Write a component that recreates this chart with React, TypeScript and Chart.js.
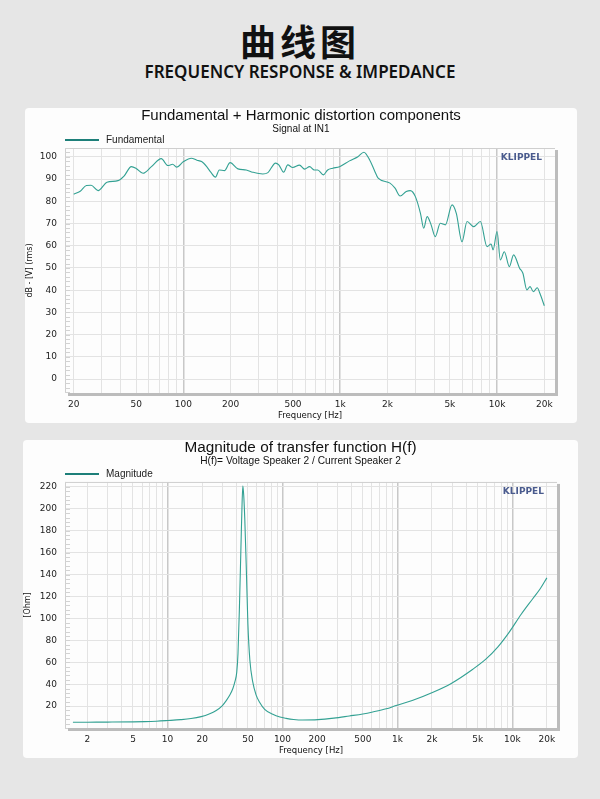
import React, { useEffect, useRef } from "react";
import { Chart, registerables } from "chart.js";
Chart.register(...registerables);

// ---------- Chart 1: Fundamental (dB) ----------
const fundFreq = [
  20, 22, 24.1, 25.8, 28.6, 32.6, 38.3, 42, 46.6, 50, 55.3, 62.6, 72.3, 79.7, 85.4, 90.6,
  100.3, 112.5, 122, 130.7, 140.9, 150, 160.3, 169.5, 182.6, 198.6, 222.8, 251.6, 276.9,
  321, 346, 387, 406, 436, 463, 498, 550, 593, 638, 684, 719, 781, 832, 896, 990, 1146,
  1297, 1416, 1541, 1650, 1745, 2076, 2236, 2410, 2636, 2798, 3014, 3247, 3408, 3581,
  3798, 4036, 4345, 4680, 5162, 5496, 5977, 6434, 7093, 7824, 8628, 9153, 9428, 9996,
  10488, 11124, 11974, 12747, 13913, 14606, 15486, 16233, 17020, 18032, 18740, 20000,
];
const fundDb = [
  83.2, 84.5, 87.1, 87.2, 84.8, 88.6, 89.3, 91.5, 95.6, 94.8, 92.6, 95.6, 99.2, 96.1, 96.7, 95.4,
  97.9, 99.4, 98.5, 97.9, 95.6, 93, 90.9, 94.1, 93.8, 97.4, 94.6, 94.1, 93.1,
  92.3, 92.9, 97.2, 96.4, 93.1, 96.4, 95.2, 96.3, 94.5, 95.6, 94.1, 94.1, 91.9, 94.1, 94.9, 95.6, 98.2,
  100.1, 102.1, 98.6, 94, 90.4, 88.2, 85.9, 82.4, 84.4, 84.8, 82.1, 74.6, 67.9, 73.1,
  69.4, 64.1, 70.1, 69.4, 78.4, 74.6, 61.8, 70.9, 68.6, 70.9, 59.6, 60.8, 58.1, 66.4,
  53.6, 57.3, 50.6, 55.9, 49.9, 47.6, 40.1, 41.6, 39.3, 41.1, 38.6, 33,
];
const fundXTicks = [
  20, 30, 40, 50, 60, 70, 80, 90, 100, 200, 300, 400, 500, 600, 700, 800, 900,
  1000, 2000, 3000, 4000, 5000, 6000, 7000, 8000, 9000, 10000, 20000,
];
const fundXLabels = [20, 50, 100, 200, 500, 1000, 2000, 5000, 10000, 20000];
const fundYTicks = [0, 10, 20, 30, 40, 50, 60, 70, 80, 90, 100];

// ---------- Chart 2: Magnitude (Ohm) ----------
const magFreq = [
  1.5, 2, 3, 5, 6.3, 8, 10, 13, 16, 19.6, 23, 26.5, 30, 32.4, 35, 37, 38.5, 40, 41, 42.2,
  43.5, 44.5, 45.2, 46, 47, 48.3, 50, 52, 55.1, 59, 63.2, 70, 82.3, 95, 107.5, 125, 150,
  203, 280, 382, 500, 610, 800, 974, 1346, 2018, 2942, 4536, 5920, 7500, 9346, 12000,
  14957, 17500, 20000,
];
const magOhm = [
  5.2, 5.3, 5.4, 5.6, 5.8, 6.2, 6.8, 7.6, 8.6, 10.4, 12.8, 16, 20.5, 25, 30.5, 36, 42, 51, 68, 110,
  165, 205, 221, 212, 190, 150, 95, 62, 42, 30, 23.5, 17, 12.5, 10, 8.8, 7.8, 7.3,
  7.6, 9, 11, 12.8, 14.6, 17.5, 20.5, 25, 32.3, 40.6, 53.6, 63, 74, 87, 104,
  117.5, 127, 137,
];
const magXTicks = [
  2, 3, 4, 5, 6, 7, 8, 9, 10, 20, 30, 40, 50, 60, 70, 80, 90, 100, 200, 300, 400, 500, 600,
  700, 800, 900, 1000, 2000, 3000, 4000, 5000, 6000, 7000, 8000, 9000, 10000, 20000,
];
const magXLabels = [2, 5, 10, 20, 50, 100, 200, 500, 1000, 2000, 5000, 10000, 20000];
const magYTicks = [20, 40, 60, 80, 100, 120, 140, 160, 180, 200, 220];

const DECADES = [10, 100, 1000, 10000];
const fmtHz = (v: number) => (v >= 1000 ? `${v / 1000}k` : `${v}`);

const klippelPlugin = {
  id: "klippel",
  beforeDatasetsDraw(chart: any, _a: any, opts: any) {
    const { ctx, chartArea: ca } = chart;
    const y = chart.scales.y;
    ctx.save();
    ctx.strokeStyle = "#cfcfcf";
    ctx.lineWidth = 1;
    ctx.beginPath();
    ctx.moveTo(ca.left + 0.5, ca.top);
    ctx.lineTo(ca.left + 0.5, ca.bottom);
    ctx.moveTo(ca.left, ca.top + 0.5);
    ctx.lineTo(ca.right, ca.top + 0.5);
    ctx.stroke();
    const step = opts.minorStep || 2;
    ctx.strokeStyle = "#d2d2d2";
    ctx.beginPath();
    for (let v = Math.ceil(y.min / step) * step; v <= y.max; v += step) {
      const py = Math.round(y.getPixelForValue(v)) + 0.5;
      ctx.moveTo(ca.left, py);
      ctx.lineTo(ca.left + 5, py);
    }
    ctx.stroke();
    ctx.restore();
  },
  afterDraw(chart: any, _a: any, opts: any) {
    const { ctx, chartArea: ca } = chart;
    ctx.save();
    // frame shadow
    ctx.fillStyle = "#bcbcbc";
    ctx.fillRect(ca.right, ca.top + 2, 3, ca.bottom - ca.top + 1);
    ctx.fillRect(ca.left + 3, ca.bottom, ca.right - ca.left, 3);
    // legend
    const ds = chart.data.datasets[0];
    const ly = ca.top - 8;
    ctx.strokeStyle = "#1d7f79";
    ctx.lineWidth = 2;
    ctx.beginPath();
    ctx.moveTo(ca.left, ly);
    ctx.lineTo(ca.left + 34, ly);
    ctx.stroke();
    ctx.fillStyle = "#222";
    ctx.font = '10px "Liberation Sans", Arial, sans-serif';
    ctx.textBaseline = "middle";
    ctx.textAlign = "left";
    ctx.fillText(ds.label, ca.left + 41, ly);
    // brand
    ctx.fillStyle = "#4a5b8e";
    ctx.font = 'bold 9px "DejaVu Sans", sans-serif';
    ctx.textAlign = "right";
    ctx.fillText(opts.brand || "KLIPPEL", ca.right - 13, ca.top + 10);
    ctx.restore();
  },
};

type Cfg = {
  freq: number[];
  vals: number[];
  label: string;
  title: string;
  subtitle: string;
  titleSize: number;
  subSize: number;
  xMin: number;
  xMax: number;
  xTicks: number[];
  xLabels: number[];
  yMin: number;
  yMax: number;
  yTicks: number[];
  yTitle: string;
  minorStep: number;
  yAxisWidth: number;
  rightGap: number;
  subPadBottom: number;
};

function makeConfig(p: Cfg): any {
  return {
    type: "line",
    data: {
      datasets: [
        {
          label: p.label,
          data: p.freq.map((f, i) => ({ x: f, y: p.vals[i] })),
          borderColor: "#33a193",
          backgroundColor: "#33a193",
          borderWidth: 1.1,
          pointRadius: 0,
          cubicInterpolationMode: "monotone",
          fill: false,
        },
      ],
    },
    options: {
      responsive: false,
      animation: false,
      layout: { padding: 0 },
      plugins: {
        legend: { display: false },
        tooltip: { enabled: false },
        title: {
          display: true,
          text: p.title,
          color: "#111",
          font: { family: '"Liberation Sans", Arial, sans-serif', size: p.titleSize, weight: "normal", lineHeight: 1.0 },
          padding: { top: 0, bottom: 0 },
        },
        subtitle: {
          display: true,
          text: p.subtitle,
          color: "#111",
          font: { family: '"Liberation Sans", Arial, sans-serif', size: p.subSize, lineHeight: 1.2 },
          padding: { top: 0, bottom: p.subPadBottom },
        },
        klippel: { minorStep: p.minorStep, brand: "KLIPPEL" },
      },
      scales: {
        x: {
          type: "logarithmic",
          min: p.xMin,
          max: p.xMax,
          afterBuildTicks: (s: any) => {
            s.ticks = p.xTicks.map((v) => ({ value: v }));
          },
          afterFit: (s: any) => {
            s.height = 30;
          },
          ticks: {
            autoSkip: false,
            maxRotation: 0,
            padding: 6,
            color: "#222",
            font: { family: '"DejaVu Sans", sans-serif', size: 9 },
            callback: (v: any) => (p.xLabels.includes(Number(v)) ? fmtHz(Number(v)) : ""),
          },
          grid: {
            drawTicks: false,
            color: (c: any) => (c.tick && DECADES.includes(c.tick.value) ? "#c8c8c8" : "#e3e3e3"),
            lineWidth: (c: any) => (c.tick && DECADES.includes(c.tick.value) ? 1.5 : 1),
          },
          border: { display: false },
          title: {
            display: true,
            text: "Frequency [Hz]",
            color: "#111",
            font: { family: '"DejaVu Sans", sans-serif', size: 8.5 },
            padding: { top: 0, bottom: 2 },
          },
        },
        y: {
          type: "linear",
          min: p.yMin,
          max: p.yMax,
          afterBuildTicks: (s: any) => {
            s.ticks = p.yTicks.map((v) => ({ value: v }));
          },
          afterFit: (s: any) => {
            s.width = p.yAxisWidth;
          },
          ticks: {
            padding: 8,
            color: "#222",
            font: { family: '"DejaVu Sans", sans-serif', size: 9 },
          },
          grid: { drawTicks: false, color: "#e3e3e3", lineWidth: 1 },
          border: { display: false },
          title: {
            display: true,
            text: p.yTitle,
            color: "#111",
            font: { family: '"DejaVu Sans", sans-serif', size: 8 },
            padding: { top: 0, bottom: 0 },
          },
        },
        gap: {
          type: "linear",
          position: "right",
          display: true,
          min: 0,
          max: 1,
          afterFit: (s: any) => {
            s.width = p.rightGap;
          },
          ticks: { display: false },
          grid: { display: false, drawTicks: false },
          border: { display: false },
        },
      },
    },
    plugins: [klippelPlugin],
  };
}

function ChartPanel(props: { cfg: Cfg; left: number; top: number; width: number; height: number }) {
  const ref = useRef<HTMLCanvasElement | null>(null);
  useEffect(() => {
    if (!ref.current) return;
    const chart = new Chart(ref.current, makeConfig(props.cfg));
    return () => chart.destroy();
  }, []);
  return (
    <div
      style={{
        position: "absolute",
        left: props.left,
        top: props.top,
        width: props.width,
        height: props.height,
        background: "#fdfdfd",
        borderRadius: 4,
        overflow: "hidden",
      }}
    >
      <canvas ref={ref} width={props.width} height={props.height} style={{ display: "block" }} />
    </div>
  );
}

const fundCfg: Cfg = {
  freq: fundFreq,
  vals: fundDb,
  label: "Fundamental",
  title: "Fundamental + Harmonic distortion components",
  subtitle: "Signal at IN1",
  titleSize: 15,
  subSize: 10,
  xMin: 17.6,
  xMax: 23400,
  xTicks: fundXTicks,
  xLabels: fundXLabels,
  yMin: -6.3,
  yMax: 104,
  yTicks: fundYTicks,
  yTitle: "dB - [V] (rms)",
  minorStep: 2,
  yAxisWidth: 40,
  rightGap: 22,
  subPadBottom: 13,
};

const magCfg: Cfg = {
  freq: magFreq,
  vals: magOhm,
  label: "Magnitude",
  title: "Magnitude of transfer function H(f)",
  subtitle: "H(f)= Voltage Speaker 2 / Current Speaker 2",
  titleSize: 15.3,
  subSize: 10.2,
  xMin: 1.28,
  xMax: 24500,
  xTicks: magXTicks,
  xLabels: magXLabels,
  yMin: 0,
  yMax: 224.5,
  yTicks: magYTicks,
  yTitle: "[Ohm]",
  minorStep: 4,
  yAxisWidth: 42,
  rightGap: 21,
  subPadBottom: 14.4,
};

export default function App() {
  return (
    <div
      style={{
        position: "absolute",
        left: 0,
        top: 0,
        width: 600,
        height: 799,
        background: "#e6e6e6",
        overflow: "hidden",
      }}
    >
      <div
        style={{
          position: "absolute",
          left: 0,
          top: 17,
          width: 600,
          textAlign: "center",
          fontFamily: '"Noto Sans CJK SC", sans-serif',
          fontWeight: 700,
          fontSize: 36,
          lineHeight: "46px",
          letterSpacing: 4,
          color: "#111",
        }}
      >
        曲线图
      </div>
      <div
        style={{
          position: "absolute",
          left: 0,
          top: 61,
          width: 600,
          textAlign: "center",
          fontFamily: '"Noto Sans", sans-serif',
          fontWeight: 600,
          fontSize: 17,
          lineHeight: "22px",
          color: "#111",
        }}
      >
        FREQUENCY RESPONSE &amp; IMPEDANCE
      </div>
      <ChartPanel cfg={fundCfg} left={25} top={108} width={552} height={315} />
      <ChartPanel cfg={magCfg} left={23} top={440} width={555} height={318} />
    </div>
  );
}
